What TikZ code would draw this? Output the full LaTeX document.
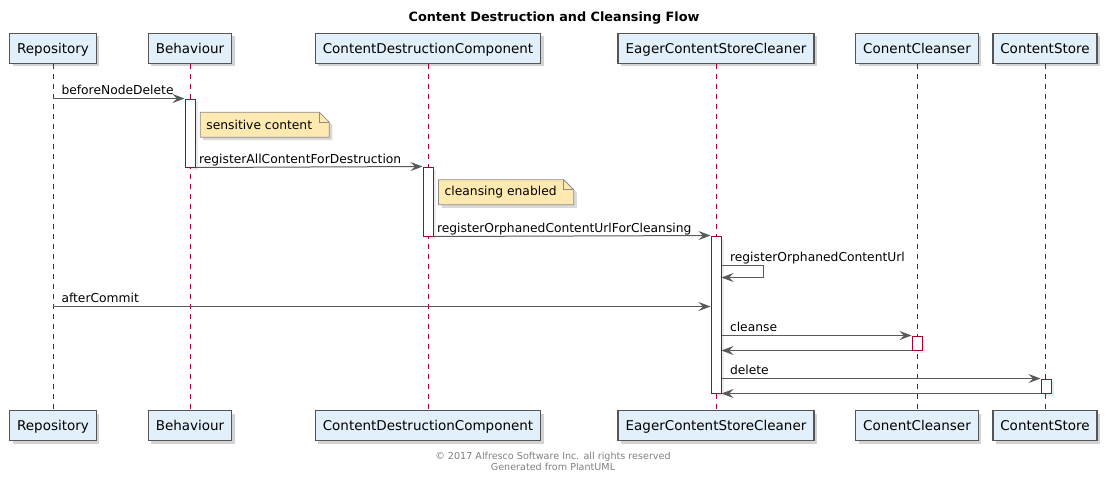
\documentclass[tikz,border=0pt]{standalone}
\usepackage{fontspec}
\setmainfont{DejaVu Sans}
\usetikzlibrary{arrows.meta, positioning, calc, shadows, backgrounds}

\definecolor{partfill}{RGB}{226,240,251}
\definecolor{partline}{RGB}{85,85,85}
\definecolor{lifecol}{RGB}{168,0,54}
\definecolor{notefill}{RGB}{254,234,176}
\definecolor{noteline}{RGB}{140,140,140}
\definecolor{msgcol}{RGB}{90,90,90}

\tikzstyle{participant} = [rectangle, draw=partline, fill=partfill, line width=1.4pt, minimum height=30pt, inner xsep=7.5pt, text height=11pt, text depth=1pt, font=\fontsize{13.5}{16}\selectfont, drop shadow={shadow xshift=3pt, shadow yshift=-3pt, opacity=0.35}]
\tikzstyle{activation} = [rectangle, draw=lifecol, fill=white, line width=1pt, minimum width=10pt, inner sep=0pt, drop shadow={shadow xshift=2.5pt, shadow yshift=-2.5pt, opacity=0.15}]
\tikzstyle{lifeline} = [draw=lifecol, line width=0.8pt, dash pattern=on 5pt off 5pt]
\tikzstyle{msg} = [draw=msgcol, line width=1pt, -{Stealth[length=12pt, width=9pt, inset=4.5pt]}]
\tikzstyle{msglabel} = [anchor=base west, inner sep=0pt, yshift=4.5pt, font=\fontsize{12.3}{14}\selectfont]
\tikzstyle{notebox} = [inner xsep=6pt, inner ysep=0pt, minimum height=24.6pt, font=\fontsize{12.3}{14}\selectfont]
\tikzstyle{noteshape} = [draw=noteline, fill=notefill, line width=0.8pt, drop shadow={shadow xshift=3pt, shadow yshift=-3pt, opacity=0.3}]
\tikzstyle{notefold} = [draw=noteline, line width=0.8pt]

\begin{document}
\begin{tikzpicture}[x=1pt, y=-1pt]

	\useasboundingbox (0,0) rectangle (1106,483);

	% Title
	\node (title) [anchor=base, font=\bfseries\fontsize{12.8}{15}\selectfont] at (554,21.7) {Content Destruction and Cleansing Flow};

	% Participants
	\node (repo_top) [participant] at (53,48.3) {Repository};
	\node (beh_top) [participant] at (190,48.3) {Behaviour};
	\node (cdc_top) [participant] at (428,48.3) {ContentDestructionComponent};
	\node (ecsc_top) [participant] at (716,48.3) {EagerContentStoreCleaner};
	\node (cl_top) [participant] at (917,48.3) {ConentCleanser};
	\node (cs_top) [participant] at (1045,48.3) {ContentStore};

	\node (repo_bot) [participant] at (53,425.5) {Repository};
	\node (beh_bot) [participant] at (190,425.5) {Behaviour};
	\node (cdc_bot) [participant] at (428,425.5) {ContentDestructionComponent};
	\node (ecsc_bot) [participant] at (716,425.5) {EagerContentStoreCleaner};
	\node (cl_bot) [participant] at (917,425.5) {ConentCleanser};
	\node (cs_bot) [participant] at (1045,425.5) {ContentStore};

	% Lifelines
	\draw[lifeline] (repo_top) -- (repo_bot);
	\draw[lifeline] (beh_top) -- (beh_bot);
	\draw[lifeline] (cdc_top) -- (cdc_bot);
	\draw[lifeline] (ecsc_top) -- (ecsc_bot);
	\draw[lifeline] (cl_top) -- (cl_bot);
	\draw[lifeline] (cs_top) -- (cs_bot);

	% Activations
	\node (beh_act) [activation, minimum height=68pt] at (190,133) {};
	\node (cdc_act) [activation, minimum height=69pt] at (428,201.5) {};
	\node (ecsc_act) [activation, minimum height=157pt] at (716,314.5) {};
	\node (cl_act) [activation, minimum height=14pt] at (917,343) {};
	\node (cs_act) [activation, minimum height=14pt] at (1046,386) {};

	% Messages
	\draw[msg] (repo_top |- beh_act.north) -- (beh_act.north west) node[msglabel, pos=0, xshift=8pt] {beforeNodeDelete};
	\draw[msg] (beh_act.south east) -- (cdc_act.north west) node[msglabel, pos=0, xshift=3pt] {registerAllContentForDestruction};
	\draw[msg] (cdc_act.south east) -- (ecsc_act.north west) node[msglabel, pos=0, xshift=3pt] {registerOrphanedContentUrlForCleansing};
	\draw[msg] ($(ecsc_act.north east)+(0,30)$) node[msglabel, xshift=8pt] {registerOrphanedContentUrl} -- ++(42,0) -- ++(0,12) -- ++(-42,0);

	\coordinate (commit_end) at ($(ecsc_act.north west)+(0,71)$);
	\draw[msg] (repo_top |- commit_end) -- (commit_end) node[msglabel, pos=0, xshift=8pt] {afterCommit};

	\draw[msg] (ecsc_act.east |- cl_act.north) -- (cl_act.north west) node[msglabel, pos=0, xshift=8pt] {cleanse};
	\draw[msg] (cl_act.south west) -- (ecsc_act.east |- cl_act.south);
	\draw[msg] (ecsc_act.east |- cs_act.north) -- (cs_act.north west) node[msglabel, pos=0, xshift=8pt] {delete};
	\draw[msg] (cs_act.south west) -- (ecsc_act.south east);

	% Notes
	\node (note_sens) [notebox, below right=13.7pt and 4.7pt of beh_act.north east] {sensitive content};
	\node (note_clean) [notebox, below right=13.3pt and 5pt of cdc_act.north east] {cleansing enabled};

	\begin{pgfonlayer}{background}
		\path[noteshape] (note_sens.south west) -- (note_sens.north west) -- ([xshift=1pt]note_sens.north east) -- ([xshift=11pt,yshift=-10pt]note_sens.north east) -- ([xshift=11pt]note_sens.south east) -- cycle;
		\path[noteshape] (note_clean.south west) -- (note_clean.north west) -- ([xshift=1pt]note_clean.north east) -- ([xshift=11pt,yshift=-10pt]note_clean.north east) -- ([xshift=11pt]note_clean.south east) -- cycle;
	\end{pgfonlayer}
	\draw[notefold] ([xshift=1pt]note_sens.north east) -- ([xshift=1pt,yshift=-10pt]note_sens.north east) -- ([xshift=11pt,yshift=-10pt]note_sens.north east);
	\draw[notefold] ([xshift=1pt]note_clean.north east) -- ([xshift=1pt,yshift=-10pt]note_clean.north east) -- ([xshift=11pt,yshift=-10pt]note_clean.north east);

	% Footer
	\node (footer_a) [anchor=base, text=gray, font=\fontsize{9.6}{11}\selectfont] at (553,459) {© 2017 Alfresco Software Inc. all rights reserved};
	\node (footer_b) [anchor=base, text=gray, font=\fontsize{9.6}{11}\selectfont] at (553,470) {Generated from PlantUML};

\end{tikzpicture}
\end{document}
